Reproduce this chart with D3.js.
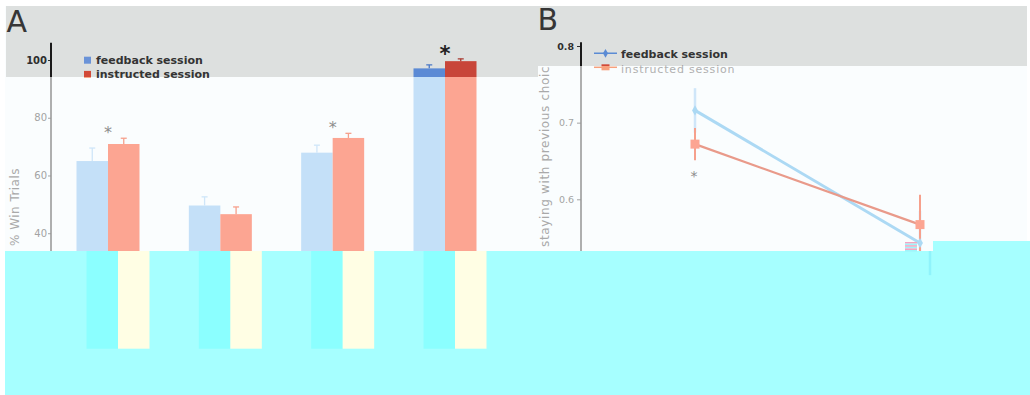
<!DOCTYPE html>
<html>
<head>
<meta charset="utf-8">
<script src="https://cdn.jsdelivr.net/npm/d3@7"></script>
<style>
  body { margin: 0; background: #fff; }
  svg { display: block; }
  text { font-family: "DejaVu Sans", Verdana, sans-serif; }
</style>
</head>
<body>
<svg id="fig" width="1030" height="395"></svg>
<script>
// panel A - % win trials per condition
const conditions = ["c1", "c2", "c3", "c4"];
const sessions = ["feedback session", "instructed session"];
const winFeedback = [65.0, 49.6, 67.9, 97.1];
const winInstructed = [70.9, 46.6, 73.0, 99.6];
const winErrFeedback = [4.5, 3.0, 2.6, 1.2];
const winErrInstructed = [2.0, 2.5, 1.6, 0.8];
const winTicks = [40, 60, 80, 100];
const winStars = ["c1", "c3", "c4"];
const winBigStar = "c4";

// panel B - staying with previous choice
const prevOutcome = ["win", "loss"];
const stayFeedback = [0.716, 0.543];
const stayInstructed = [0.672, 0.567];
const stayErrFeedback = [0.029, 0.042];
const stayErrInstructed = [0.021, 0.039];
const stayTicks = [0.6, 0.7, 0.8];
const stayStars = ["win"];

const svg = d3.select("#fig");

// scales
const xA = d3.scalePoint().domain(conditions).range([108, 445]);
const xSub = d3.scaleBand().domain(sessions).range([-31.5, 31.5]);
const yA = d3.scaleLinear().domain([0, 100]).range([348.7, 60]);
const xB = d3.scalePoint().domain(prevOutcome).range([695, 920]);
const yB = d3.scaleLinear().domain([0.6, 0.8]).range([199.3, 46]);

const winRows = conditions.flatMap((c, i) => [
  {c: c, s: sessions[0], v: winFeedback[i], e: winErrFeedback[i]},
  {c: c, s: sessions[1], v: winInstructed[i], e: winErrInstructed[i]}
]);
const stayLines = [
  {s: sessions[0], pts: prevOutcome.map((o, i) => ({o: o, v: stayFeedback[i], e: stayErrFeedback[i]}))},
  {s: sessions[1], pts: prevOutcome.map((o, i) => ({o: o, v: stayInstructed[i], e: stayErrInstructed[i]}))}
];

// the scan has 3 zones: grey band on top, white middle, cyan (inverted) bottom
const light = {
  blue: "#c4e0f8", red: "#fca592", errBlue: "#cfe6f9", errRed: "#f6a08c",
  lineBlue: "#acd9f4", lineRed: "#e99a8a", axis: "#959595", axisW: 1.5,
  tick: "#a3a3a3", tickW: "normal", label: "#a9a9a9", star: "#8d8d8d", starBig: "#555",
  legend: "#444", legend2: "#b0b0b0", legBlue: "#9bbbe8", legRed: "#f7a07c", title: "#333",
  showLabelB: true, dx: 0
};
const dark = {
  blue: "#5b8ad5", red: "#c8463a", errBlue: "#4a78c6", errRed: "#a93a30",
  lineBlue: "#5b8bd4", lineRed: "#e0604f", axis: "#1a1a1a", axisW: 2,
  tick: "#2e2e2e", tickW: "bold", label: "#555", star: "#444", starBig: "#222",
  legend: "#333", legend2: "#a0a0a0", legBlue: "#6a93d8", legRed: "#d24a38", title: "#363636",
  showLabelB: false, dx: 0
};
const cyan = {
  blue: "#8bffff", red: "#fffee4", errBlue: "#8ff3fb", errRed: "#8ff3fb",
  lineBlue: "#a5ffff", lineRed: "#a5ffff", barsOnly: true, dx: 10
};

function drawA(g, t) {
  const gg = g.append("g").attr("transform", "translate(" + t.dx + ",0)");
  gg.selectAll("rect.bar")
    .data(winRows)
    .enter()
    .append("rect")
    .attr("x", d => xA(d.c) + xSub(d.s))
    .attr("y", d => yA(d.v))
    .attr("width", xSub.bandwidth())
    .attr("height", d => yA(0) - yA(d.v))
    .attr("fill", d => d.s === sessions[0] ? t.blue : t.red);
  // error bars (upper half only)
  const eb = gg.selectAll("g.err").data(winRows).enter().append("g")
    .attr("stroke", d => d.s === sessions[0] ? t.errBlue : t.errRed)
    .attr("stroke-width", 1.3);
  eb.append("line")
    .attr("x1", d => xA(d.c) + xSub(d.s) + xSub.bandwidth() / 2)
    .attr("x2", d => xA(d.c) + xSub(d.s) + xSub.bandwidth() / 2)
    .attr("y1", d => yA(d.v))
    .attr("y2", d => yA(d.v + d.e));
  eb.append("line")
    .attr("x1", d => xA(d.c) + xSub(d.s) + xSub.bandwidth() / 2 - 3)
    .attr("x2", d => xA(d.c) + xSub(d.s) + xSub.bandwidth() / 2 + 3)
    .attr("y1", d => yA(d.v + d.e))
    .attr("y2", d => yA(d.v + d.e));
  if (t.barsOnly) return;

  // y axis
  const ax = gg.append("g").attr("transform", "translate(51,0)")
    .call(d3.axisLeft(yA).tickValues(winTicks).tickSize(3).tickPadding(1));
  ax.select(".domain").remove();
  ax.selectAll("line").attr("stroke", t.tick);
  ax.selectAll("text").attr("fill", t.tick).style("font-size", "10px").style("font-weight", t.tickW)
    .style("font-family", "'DejaVu Sans', sans-serif");
  gg.append("line").attr("x1", 51).attr("x2", 51).attr("y1", yA(106)).attr("y2", yA(0))
    .attr("stroke", t.axis).attr("stroke-width", t.axisW);

  // significance stars
  gg.selectAll("text.star")
    .data(winStars)
    .enter()
    .append("text")
    .attr("x", c => xA(c))
    .attr("y", c => {
      const top = d3.max(winRows.filter(d => d.c === c), d => d.v + d.e);
      return yA(top) - 9 + (c === winBigStar ? 11 : 8.8);
    })
    .attr("text-anchor", "middle")
    .style("font-size", c => c === winBigStar ? "21px" : "16px")
    .style("font-weight", c => c === winBigStar ? "bold" : "normal")
    .attr("fill", c => c === winBigStar ? t.starBig : t.star)
    .text("*");

  // legend
  const lg = gg.selectAll("g.leg").data(sessions).enter().append("g")
    .attr("transform", (s, i) => "translate(84," + (56.7 + i * 14.2) + ")");
  lg.append("rect").attr("width", 7).attr("height", 7)
    .attr("fill", (s, i) => i === 0 ? t.legBlue : t.legRed);
  lg.append("text").attr("x", 12).attr("y", 7)
    .style("font-size", "11px").style("font-weight", "bold").attr("fill", t.legend)
    .text(s => s);

  // y label
  gg.append("text")
    .attr("transform", "translate(19,207) rotate(-90)")
    .attr("text-anchor", "middle")
    .style("font-size", "12px").style("letter-spacing", "0.45px")
    .attr("fill", t.label)
    .text("% Win Trials");

  gg.append("text").attr("x", 6.5).attr("y", 32)
    .style("font-size", "30px").attr("fill", t.title).text("A");
}

function drawB(g, t) {
  const gg = g.append("g").attr("transform", "translate(" + t.dx + ",0)");
  const line = d3.line().x(d => xB(d.o)).y(d => yB(d.v));

  // error bars
  stayLines.forEach(l => {
    gg.selectAll(null)
      .data(l.pts)
      .enter()
      .append("line")
      .attr("x1", d => xB(d.o)).attr("x2", d => xB(d.o))
      .attr("y1", d => yB(d.v + d.e)).attr("y2", d => yB(d.v - d.e))
      .attr("stroke", l.s === sessions[0] ? t.errBlue : t.errRed)
      .attr("stroke-width", l.s === sessions[0] ? 2.5 : 2);
  });
  if (t.barsOnly) return;

  gg.selectAll("path.ln")
    .data(stayLines)
    .enter()
    .append("path")
    .attr("d", l => line(l.pts))
    .attr("fill", "none")
    .attr("stroke", l => l.s === sessions[0] ? t.lineBlue : t.lineRed)
    .attr("stroke-width", l => l.s === sessions[0] ? 3 : 2.2);
  // markers
  gg.selectAll("path.dia")
    .data(stayLines[0].pts)
    .enter()
    .append("path")
    .attr("transform", d => "translate(" + xB(d.o) + "," + yB(d.v) + ")")
    .attr("d", d3.symbol(d3.symbolDiamond, 30))
    .attr("fill", t.lineBlue);
  gg.selectAll("rect.sq")
    .data(stayLines[1].pts)
    .enter()
    .append("rect")
    .attr("x", d => xB(d.o) - 4.5).attr("y", d => yB(d.v) - 4.5)
    .attr("width", 9).attr("height", 9)
    .attr("fill", t.red);

  // stars under the instructed point
  gg.selectAll("text.star")
    .data(stayStars)
    .enter()
    .append("text")
    .attr("x", o => xB(o) - 1)
    .attr("y", o => {
      const p = stayLines[1].pts.find(d => d.o === o);
      return yB(p.v - p.e) + 13 + 7.7;
    })
    .attr("text-anchor", "middle")
    .style("font-size", "14px")
    .attr("fill", t.star)
    .text("*");

  // axis
  const ax = gg.append("g").attr("transform", "translate(581,0)")
    .call(d3.axisLeft(yB).tickValues(stayTicks).tickSize(4).tickPadding(3).tickFormat(d3.format(".1f")));
  ax.select(".domain").remove();
  ax.selectAll("line").attr("stroke", t.tick);
  ax.selectAll("text").attr("fill", t.tick).style("font-size", "9.5px").style("font-weight", t.tickW)
    .style("font-family", "'DejaVu Sans', sans-serif");
  gg.append("line").attr("x1", 581).attr("x2", 581).attr("y1", yB(0.805)).attr("y2", yB(0.52))
    .attr("stroke", t.axis).attr("stroke-width", t.axisW);

  // legend
  const lg = gg.selectAll("g.leg").data(sessions).enter().append("g")
    .attr("transform", (s, i) => "translate(594," + (53.3 + i * 14) + ")");
  lg.append("line").attr("x1", 0).attr("x2", 23)
    .attr("stroke", (s, i) => i === 0 ? t.lineBlue : t.legRed).attr("stroke-width", 1.5);
  lg.filter((s, i) => i === 0).append("path")
    .attr("transform", "translate(11.5,0)")
    .attr("d", d3.symbol(d3.symbolDiamond, 22)).attr("fill", t.lineBlue);
  lg.filter((s, i) => i === 1).append("rect")
    .attr("x", 7.5).attr("y", -3).attr("width", 8).attr("height", 6).attr("fill", t.legRed);
  lg.append("text").attr("x", 27).attr("y", (s, i) => i === 0 ? 5 : 5.2)
    .style("font-size", "11px")
    .style("font-weight", (s, i) => i === 0 ? "bold" : "normal")
    .style("letter-spacing", (s, i) => i === 0 ? "0px" : "0.8px")
    .attr("fill", (s, i) => i === 0 ? t.legend : t.legend2)
    .text(s => s);

  // y label (its top end is lost in the grey band of the scan)
  if (t.showLabelB) {
    gg.append("text")
      .attr("transform", "translate(548.5,247) rotate(-90)")
      .attr("text-anchor", "start")
      .style("font-size", "12px").style("letter-spacing", "0.65px")
      .attr("fill", t.label)
      .text("staying with previous choice");
  }

  gg.append("text").attr("x", 537.5).attr("y", 30)
    .style("font-size", "30px").attr("fill", t.title).text("B");
}

// zone geometry of the scan
const greyZone = [[6, 6, 532, 71], [538, 6, 489, 60]];
const cyanZone = [[5, 251, 1025, 144], [933, 241, 97, 10]];
const rectPath = z => z.map(r => "M" + r[0] + "," + r[1] + "h" + r[2] + "v" + r[3] + "h" + (-r[2]) + "Z").join("");

const defs = svg.append("defs");
defs.append("clipPath").attr("id", "clipGrey").append("path").attr("d", rectPath(greyZone));
defs.append("clipPath").attr("id", "clipCyan").append("path").attr("d", rectPath(cyanZone));

svg.append("rect").attr("width", 1030).attr("height", 395).attr("fill", "#fff");
svg.append("rect").attr("x", 5).attr("y", 6).attr("width", 1022).attr("height", 389).attr("fill", "#fafdfe");

// white (light) layer
const gLight = svg.append("g");
drawA(gLight, light);
drawB(gLight, light);

// grey band with darker inks
svg.append("path").attr("d", rectPath(greyZone)).attr("fill", "#dde0df");
const gDark = svg.append("g").attr("clip-path", "url(#clipGrey)");
drawA(gDark, dark);
drawB(gDark, dark);

// cyan bottom with shifted ghost of the bars
svg.append("path").attr("d", rectPath(cyanZone)).attr("fill", "#a6ffff");
const gCyan = svg.append("g").attr("clip-path", "url(#clipCyan)");
drawA(gCyan, cyan);
drawB(gCyan, cyan);

// small glitch stripes next to the cyan step
[0, 1, 2].forEach(i => {
  svg.append("rect").attr("x", 905).attr("y", 242 + i * 3.2).attr("width", 6).attr("height", 1.6).attr("fill", "#f4a3c4");
  svg.append("rect").attr("x", 911).attr("y", 242 + i * 3.2).attr("width", 6).attr("height", 1.6).attr("fill", "#f0a8c0");
  svg.append("rect").attr("x", 905).attr("y", 243.6 + i * 3.2).attr("width", 12).attr("height", 1.6).attr("fill", "#9ff4fb");
});
</script>
</body>
</html>
